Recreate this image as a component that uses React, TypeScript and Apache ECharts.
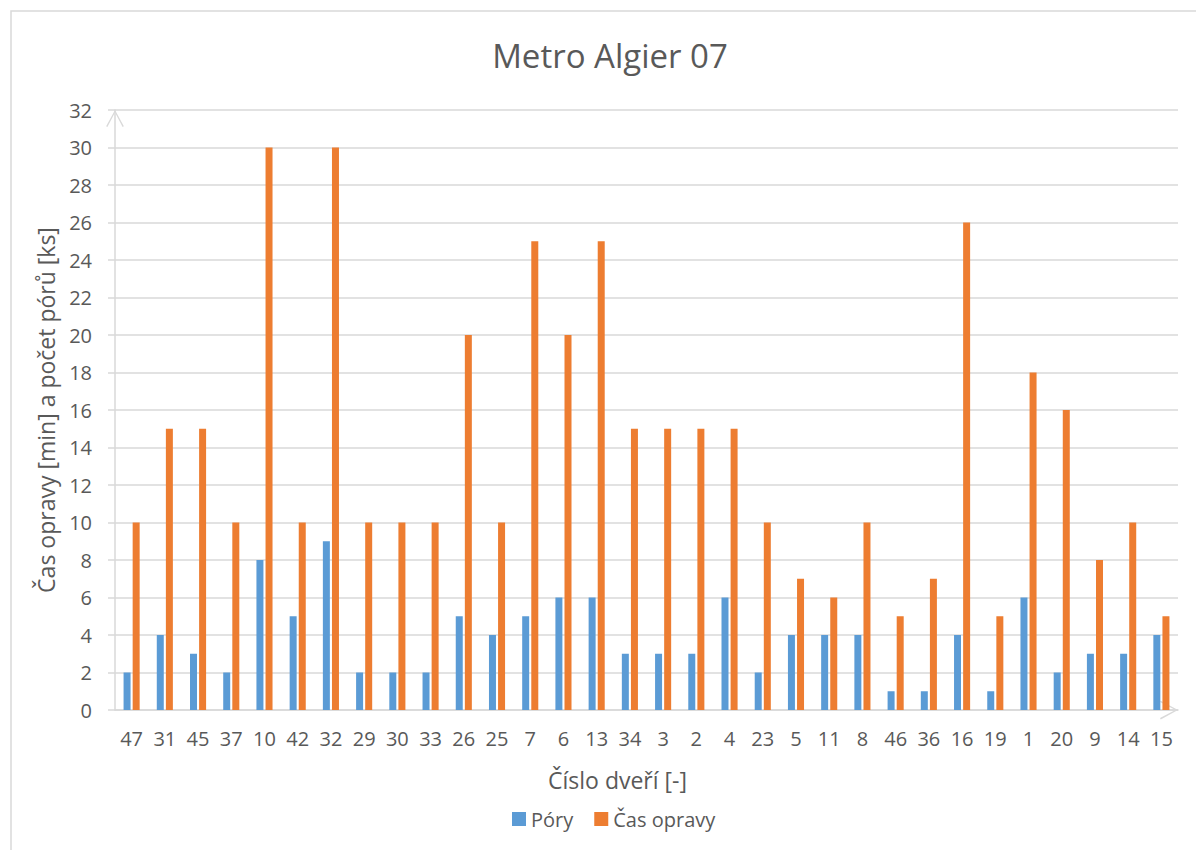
import React, { useEffect, useRef } from "react";
import * as echarts from "echarts";

const categories = ["47","31","45","37","10","42","32","29","30","33","26","25","7","6","13","34","3","2","4","23","5","11","8","46","36","16","19","1","20","9","14","15"];
const pory = [2,4,3,2,8,5,9,2,2,2,5,4,5,6,6,3,3,3,6,2,4,4,4,1,1,4,1,6,2,3,3,4];
const casOpravy = [10,15,15,10,30,10,30,10,10,10,20,10,25,20,25,15,15,15,15,10,7,6,10,5,7,26,5,18,16,8,10,5];

const FONT = "'Open Sans', 'Noto Sans', sans-serif";
const TXT = "#595959";
const GRID = "#d9d9d9";
const CHEVRON = "path://M0,92 L50,0 L100,92 L93,96 L50,14 L7,96 Z";

export default function App() {
  const ref = useRef<HTMLDivElement>(null);
  useEffect(() => {
    if (!ref.current) return;
    const chart = echarts.init(ref.current, null, { renderer: "svg" });
    chart.setOption({
      animation: false,
      backgroundColor: "#ffffff",
      textStyle: { fontFamily: FONT },
      graphic: [
        {
          type: "rect",
          shape: { x: 11, y: 11, width: 1220, height: 860 },
          style: { fill: "none", stroke: GRID, lineWidth: 1.5 },
          silent: true,
        },
      ],
      title: {
        text: "Metro Algier 07",
        left: 605,
        top: 34,
        textAlign: "center",
        textStyle: { fontFamily: FONT, fontSize: 33, fontWeight: "normal", color: TXT },
      },
      legend: {
        left: 507,
        top: 804,
        itemWidth: 14,
        itemHeight: 14,
        itemGap: 21,
        icon: "rect",
        textStyle: { fontFamily: FONT, fontSize: 20, color: TXT },
        data: ["Póry", "Čas opravy"],
      },
      grid: { left: 115, right: 18, top: 110, bottom: 140, containLabel: false },
      xAxis: {
        type: "category",
        data: categories,
        boundaryGap: true,
        name: "Číslo dveří [-]",
        nameLocation: "middle",
        nameGap: 58,
        nameTextStyle: { fontFamily: FONT, fontSize: 23, color: TXT, padding: [0, 58, 0, 0] },
        axisLine: {
          show: true,
          lineStyle: { color: GRID, width: 1.5 },
          symbol: ["none", CHEVRON],
          symbolSize: [20, 18],
          symbolOffset: [0, -9],
        },
        axisTick: { show: false },
        axisLabel: { fontFamily: FONT, fontSize: 20, color: TXT, margin: 18, interval: 0 },
        splitLine: { show: false },
      },
      yAxis: {
        type: "value",
        min: 0,
        max: 32,
        interval: 2,
        name: "Čas opravy [min] a počet pórů [ks]",
        nameLocation: "middle",
        nameGap: 58,
        nameTextStyle: { fontFamily: FONT, fontSize: 23, color: TXT },
        axisLine: {
          show: true,
          lineStyle: { color: GRID, width: 1.5 },
          symbol: ["none", CHEVRON],
          symbolSize: [20, 17],
          symbolOffset: [0, -8.5],
        },
        axisTick: { show: true, length: 7, lineStyle: { color: GRID, width: 1.5 } },
        axisLabel: { fontFamily: FONT, fontSize: 20, color: TXT, margin: 23 },
        splitLine: { show: true, lineStyle: { color: GRID, width: 1.5 } },
      },
      series: [
        {
          name: "Póry",
          type: "bar",
          data: pory,
          barWidth: 7,
          barGap: "30%",
          itemStyle: { color: "#5B9BD5" },
        },
        {
          name: "Čas opravy",
          type: "bar",
          data: casOpravy,
          barWidth: 7,
          barGap: "30%",
          itemStyle: { color: "#ED7D31" },
        },
      ],
    });
    return () => chart.dispose();
  }, []);
  return (
    <div
      ref={ref}
      style={{ position: "fixed", left: 0, top: 0, width: 1196, height: 850 }}
    />
  );
}
